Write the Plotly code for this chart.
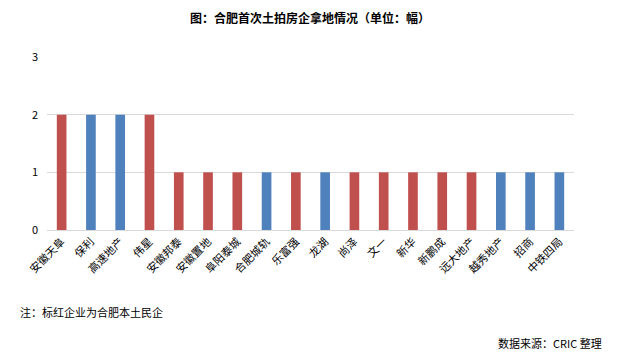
import plotly.graph_objects as go

categories = ["安徽天阜", "保利", "高速地产", "伟星", "安徽邦泰", "安徽置地", "阜阳泰城", "合肥城轨",
              "乐富强", "龙湖", "尚泽", "文一", "新华", "新鹏成", "远大地产", "越秀地产", "招商", "中铁四局"]
values = [2, 2, 2, 2, 1, 1, 1, 1, 1, 1, 1, 1, 1, 1, 1, 1, 1, 1]
local_flags = [1, 0, 0, 1, 1, 1, 1, 0, 1, 0, 1, 1, 1, 1, 1, 0, 0, 0]

RED = "#c0504d"
BLUE = "#4f81bd"
colors = [RED if f else BLUE for f in local_flags]

FONT = "Noto Sans CJK SC, sans-serif"

fig = go.Figure(go.Bar(x=categories, y=values, marker=dict(color=colors, line=dict(width=0)), width=0.33))

fig.update_layout(
    width=620, height=354,
    margin=dict(l=47, r=46, t=57, b=124),
    paper_bgcolor="white", plot_bgcolor="white",
    font=dict(family=FONT, size=11, color="black"),
    showlegend=False,
    title=dict(text="<b>图：合肥首次土拍房企拿地情况（单位：幅）</b>", x=0.5, xanchor="center",
               y=1 - 19 / 354, yanchor="middle", font=dict(size=12, family=FONT, color="black")),
    xaxis=dict(tickangle=-45, showgrid=False, showline=True, linecolor="#d9d9d9", linewidth=1,
               ticks="", tickfont=dict(size=11, family=FONT)),
    yaxis=dict(range=[0, 3], dtick=1, showgrid=True, gridcolor="#d9d9d9", gridwidth=1,
               zeroline=False, ticks="", tickfont=dict(size=11, family=FONT), ticklabelstandoff=8),
    annotations=[
        dict(text="注：标红企业为合肥本土民企", x=18 / 620, y=1 - 312 / 354, xref="paper", yref="paper",
             xanchor="left", yanchor="middle", showarrow=False, font=dict(size=11, family=FONT)),
        dict(text="数据来源：CRIC 整理", x=604 / 620, y=1 - 343 / 354, xref="paper", yref="paper",
             xanchor="right", yanchor="middle", showarrow=False, font=dict(size=11, family=FONT)),
    ],
)
# convert annotation coords relative to plot domain: use container refs
for a in fig.layout.annotations:
    pass
fig.layout.annotations[0].update(xref="paper", yref="paper")

# Use absolute positions via paper mapping
pl, pr, pt, pb = 47, 46, 57, 124
pw, ph = 620 - pl - pr, 354 - pt - pb
def px_to_paper(x, y):
    return (x - pl) / pw, (354 - pb - y) / ph
x0, y0 = px_to_paper(18, 312)
x1, y1 = px_to_paper(604, 343)
fig.layout.annotations[0].update(x=x0, y=y0)
fig.layout.annotations[1].update(x=x1, y=y1)

fig.write_html("out.html")
